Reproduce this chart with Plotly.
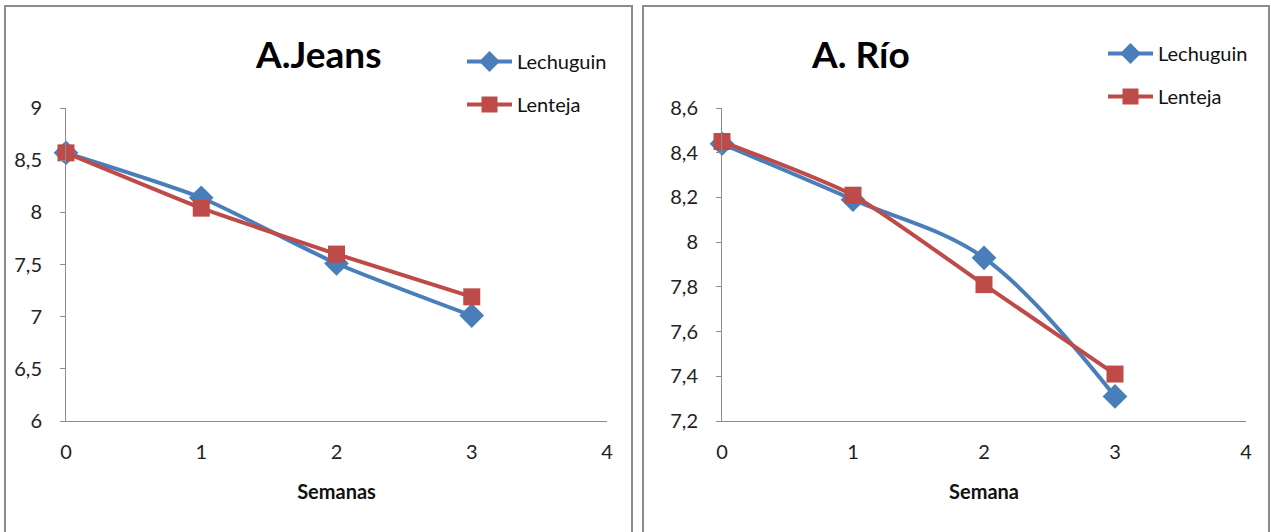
import plotly.graph_objects as go

# Weeks and pH readings per substrate for each site
semanas = [0, 1, 2, 3]
jeans_lechuguin = [8.57, 8.14, 7.51, 7.01]
jeans_lenteja = [8.57, 8.04, 7.60, 7.19]
rio_lechuguin = [8.44, 8.19, 7.93, 7.31]
rio_lenteja = [8.45, 8.21, 7.81, 7.41]

jeans_yticks = [6, 6.5, 7, 7.5, 8, 8.5, 9]
rio_yticks = [7.2, 7.4, 7.6, 7.8, 8.0, 8.2, 8.4, 8.6]
xticks = [0, 1, 2, 3, 4]

BLUE = "#4A7EBB"
RED = "#BE4B48"
FONT = "Lato"
W, H = 1271, 532

fig = go.Figure()

def add_series(x, y, name, color, symbol, size, xa, ya, legend, smooth):
    fig.add_trace(go.Scatter(
        x=x, y=y, name=name, mode="lines+markers", cliponaxis=False,
        line=dict(color=color, width=4, shape="spline" if smooth else "linear", smoothing=smooth or 0),
        marker=dict(symbol=symbol, size=size, color=color),
        xaxis=xa, yaxis=ya, legend=legend, legendgroup=legend + name,
    ))

add_series(semanas, jeans_lechuguin, "Lechuguin", BLUE, "diamond", 19, "x", "y", "legend", 0.6)
add_series(semanas, jeans_lenteja, "Lenteja", RED, "square", 17, "x", "y", "legend", 0.3)
add_series(semanas, rio_lechuguin, "Lechuguin", BLUE, "diamond", 19, "x2", "y2", "legend2", 1.0)
add_series(semanas, rio_lenteja, "Lenteja", RED, "square", 17, "x2", "y2", "legend2", 0.6)

def px_x(p):
    return p / W

def px_y(p):
    return 1 - p / H

axis_common = dict(
    showgrid=False, zeroline=False, showline=True, linecolor="#8C8C8C", linewidth=1,
    automargin=False,
    tickfont=dict(family=FONT, size=20, color="#222"),
)

legend_common = dict(
    xanchor="left", yanchor="top", font=dict(family=FONT, size=20, color="#111"),
    tracegroupgap=14, itemwidth=45, bgcolor="rgba(0,0,0,0)",
)

fig.update_layout(
    width=W, height=H,
    margin=dict(l=0, r=0, t=0, b=0),
    paper_bgcolor="white", plot_bgcolor="white",
    separators=",.",
    font=dict(family=FONT, color="#111"),
    xaxis=dict(domain=[px_x(66), px_x(607)], range=[0, 4], tickvals=xticks, ticks="",
               ticklabelstandoff=13, anchor="y",
               title=dict(text="<b>Semanas</b>", font=dict(family=FONT, size=20), standoff=22),
               **axis_common),
    yaxis=dict(domain=[px_y(421), px_y(108)], range=[6, 9], tickvals=jeans_yticks,
               ticks="outside", ticklen=5, tickcolor="#8C8C8C", ticklabelstandoff=14, anchor="x",
               **axis_common),
    xaxis2=dict(domain=[px_x(722), px_x(1246)], range=[0, 4], tickvals=xticks, ticks="",
                ticklabelstandoff=13, anchor="y2",
                title=dict(text="<b>Semana</b>", font=dict(family=FONT, size=20), standoff=22),
                **axis_common),
    yaxis2=dict(domain=[px_y(421), px_y(108)], range=[7.2, 8.6], tickvals=rio_yticks,
                ticks="outside", ticklen=5, tickcolor="#8C8C8C", ticklabelstandoff=14, anchor="x2",
                **axis_common),
    legend=dict(x=px_x(462), y=px_y(42), **legend_common),
    legend2=dict(x=px_x(1103), y=px_y(34), **legend_common),
    annotations=[
        dict(text="<b>A.Jeans</b>", x=px_x(318), y=px_y(54), xref="paper", yref="paper",
             xanchor="center", yanchor="middle",
             showarrow=False, font=dict(family=FONT, size=37, color="#000")),
        dict(text="<b>A. Río</b>", x=px_x(860), y=px_y(54), xref="paper", yref="paper",
             xanchor="center", yanchor="middle",
             showarrow=False, font=dict(family=FONT, size=37, color="#000")),
    ],
    shapes=[
        dict(type="rect", xref="paper", yref="paper", x0=px_x(5), x1=px_x(632),
             y0=px_y(545), y1=px_y(6), line=dict(color="#8C8C8C", width=2)),
        dict(type="rect", xref="paper", yref="paper", x0=px_x(643), x1=px_x(1269),
             y0=px_y(545), y1=px_y(6), line=dict(color="#8C8C8C", width=2)),
    ],
)

fig.write_html("out.html")
